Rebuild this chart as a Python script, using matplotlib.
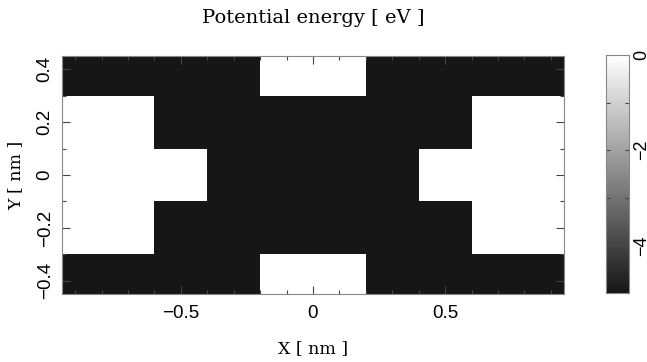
import numpy as np
import matplotlib
matplotlib.use("Agg")
import matplotlib.pyplot as plt
from matplotlib.colors import LinearSegmentedColormap
from matplotlib.ticker import MultipleLocator

# cell boundaries of the potential map (nm)
x_edges = [-0.95, -0.6, -0.4, -0.2, 0.2, 0.4, 0.6, 0.95]
y_edges = [-0.45, -0.3, -0.1, 0.1, 0.3, 0.45]

# potential in eV, rows from bottom (y=-0.45) to top (y=0.45)
potential = [
    [-5, -5, -5, 0, -5, -5, -5],
    [0, -5, -5, -5, -5, -5, 0],
    [0, 0, -5, -5, -5, 0, 0],
    [0, -5, -5, -5, -5, -5, 0],
    [-5, -5, -5, 0, -5, -5, -5],
]

cbar_ticks = [0, -2, -4]
x_ticks = [-0.5, 0, 0.5]
y_ticks = [-0.4, -0.2, 0, 0.2, 0.4]

W, H = 647, 362
fig = plt.figure(figsize=(W / 100, H / 100), dpi=100)

def px_axes(l, t, r, b):
    return fig.add_axes([l / W, 1 - b / H, (r - l) / W, (b - t) / H])

cmap = LinearSegmentedColormap.from_list("pot", ["#161616", "#ffffff"])
sans = "Liberation Sans"
serif = "DejaVu Serif"
spine_col = "#888888"

ax = px_axes(62, 56, 564, 294)
mesh = ax.pcolormesh(x_edges, y_edges, np.array(potential), cmap=cmap,
                     vmin=-5, vmax=0, shading="flat")
ax.set_xlim(-0.95, 0.95)
ax.set_ylim(-0.45, 0.45)

ax.set_xticks(x_ticks)
ax.set_xticklabels(["\u22120.5", "0", "0.5"])
ax.set_yticks(y_ticks)
ax.set_yticklabels(["\u22120.4", "\u22120.2", "0", "0.2", "0.4"],
                   rotation=90, va="center")
ax.xaxis.set_minor_locator(MultipleLocator(0.1))
ax.yaxis.set_minor_locator(MultipleLocator(0.1))
ax.tick_params(which="both", direction="in", top=True, right=True,
               color="#444444", width=0.8, labelsize=13.5)
ax.tick_params(which="major", length=6)
ax.tick_params(which="minor", length=3)
ax.tick_params(axis="x", pad=8)
ax.tick_params(axis="y", pad=6)
for lab in ax.get_xticklabels() + ax.get_yticklabels():
    lab.set_fontfamily(sans)
for sp in ax.spines.values():
    sp.set_color(spine_col)
    sp.set_linewidth(0.8)

ax.set_xlabel("X [ nm ]", fontfamily=serif, fontsize=12.5, labelpad=13)
ax.set_ylabel("Y [ nm ]", fontfamily=serif, fontsize=12.5, labelpad=9)
fig.text(313 / W, 1 - 18 / H, "Potential energy [ eV ]", fontfamily=serif,
         fontsize=14, ha="center", va="center")

# colour bar
cax = px_axes(606, 55, 629, 293)
cb = fig.colorbar(mesh, cax=cax)
cb.set_ticks(cbar_ticks)
cb.set_ticklabels(["0", "\u22122", "\u22124"])
cb.outline.set_edgecolor(spine_col)
cb.outline.set_linewidth(0.8)
cax.yaxis.set_minor_locator(MultipleLocator(1))
cax.tick_params(which="both", direction="in", left=True, right=True,
                color="#444444", width=0.8, length=3, labelsize=13, pad=3)
for lab in cax.get_yticklabels():
    lab.set_fontfamily(sans)
    lab.set_rotation(90)
    lab.set_va("center")

fig.savefig("out.png", dpi=100)
